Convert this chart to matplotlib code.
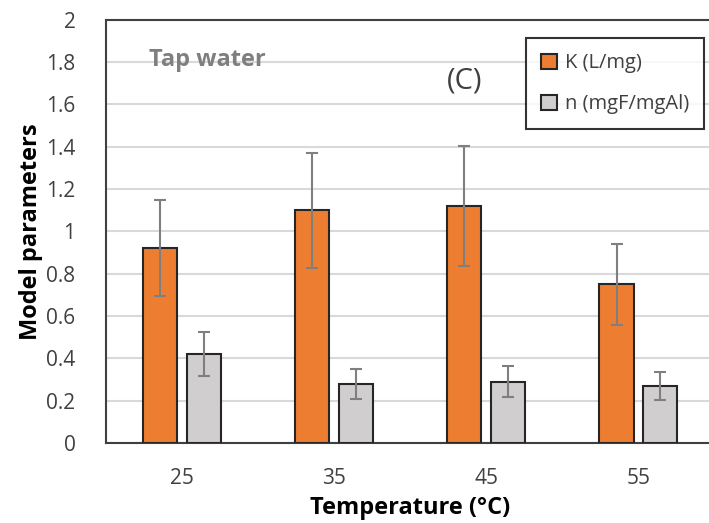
import numpy as np
import matplotlib.pyplot as plt

plt.rcParams["font.family"] = ["Open Sans", "DejaVu Sans"]

temperatures = ["25", "35", "45", "55"]
k_values = [0.92, 1.10, 1.12, 0.75]
k_errors = [0.227, 0.273, 0.282, 0.19]
n_values = [0.42, 0.28, 0.29, 0.27]
n_errors = [0.105, 0.072, 0.075, 0.065]

ORANGE = "#ED7D31"
GRAY = "#D0CECE"
EDGE = "#262626"
ERR = "#7F7F7F"
TICK = "#404040"

fig = plt.figure(figsize=(7.09, 5.23), dpi=100)
ax = fig.add_axes([0.1495, 0.153, 0.858, 0.809])

x = np.arange(len(temperatures))
width = 0.224
offset = 0.143

ax.bar(x - offset, k_values, width, color=ORANGE, edgecolor=EDGE, linewidth=1.5,
       label="K (L/mg)", zorder=3)
ax.bar(x + offset, n_values, width, color=GRAY, edgecolor=EDGE, linewidth=1.5,
       label="n (mgF/mgAl)", zorder=3)
ax.errorbar(x - offset, k_values, yerr=k_errors, fmt="none", ecolor=ERR,
            elinewidth=1.5, capsize=4, capthick=1.5, zorder=4)
ax.errorbar(x + offset, n_values, yerr=n_errors, fmt="none", ecolor=ERR,
            elinewidth=1.5, capsize=4, capthick=1.5, zorder=4)

ax.set_xlim(-0.5, 3.5)
ax.set_ylim(0, 2)
ax.set_yticks(np.arange(0, 2.01, 0.2))
ax.set_yticklabels(["0", "0.2", "0.4", "0.6", "0.8", "1", "1.2", "1.4", "1.6", "1.8", "2"])
ax.set_xticks(x)
ax.set_xticklabels(temperatures)
ax.tick_params(axis="both", length=0, labelsize=15, labelcolor=TICK)
ax.tick_params(axis="y", pad=22)
ax.tick_params(axis="x", pad=18)

ax.yaxis.grid(True, color="#D9D9D9", linewidth=1.5, zorder=0)
ax.set_axisbelow(True)

for side in ["left", "bottom", "top"]:
    ax.spines[side].set_color("#404040")
    ax.spines[side].set_linewidth(1.5)
ax.spines["right"].set_visible(False)

ax.set_ylabel("Model parameters", fontsize=17, fontweight="bold", color="black", labelpad=2)
ax.set_xlabel("Temperature (°C)", fontsize=17, fontweight="bold", color="black", labelpad=5)

ax.text(-0.217, 1.81, "Tap water", fontsize=17, fontweight="bold", color="#7F7F7F",
        va="center", ha="left")
ax.text(1.855, 1.71, "(C)", fontsize=21, color="#404040", va="center", ha="center")

leg = ax.legend(loc="upper right", bbox_to_anchor=(0.983, 0.957), fontsize=14.5,
                frameon=True, fancybox=False, edgecolor="black", handlelength=0.75,
                handleheight=0.75, handletextpad=0.4, labelspacing=1.05,
                borderpad=0.75, borderaxespad=0)
leg.get_frame().set_linewidth(1.5)
for t in leg.get_texts():
    t.set_color(TICK)

fig.savefig("out.png", dpi=100)
